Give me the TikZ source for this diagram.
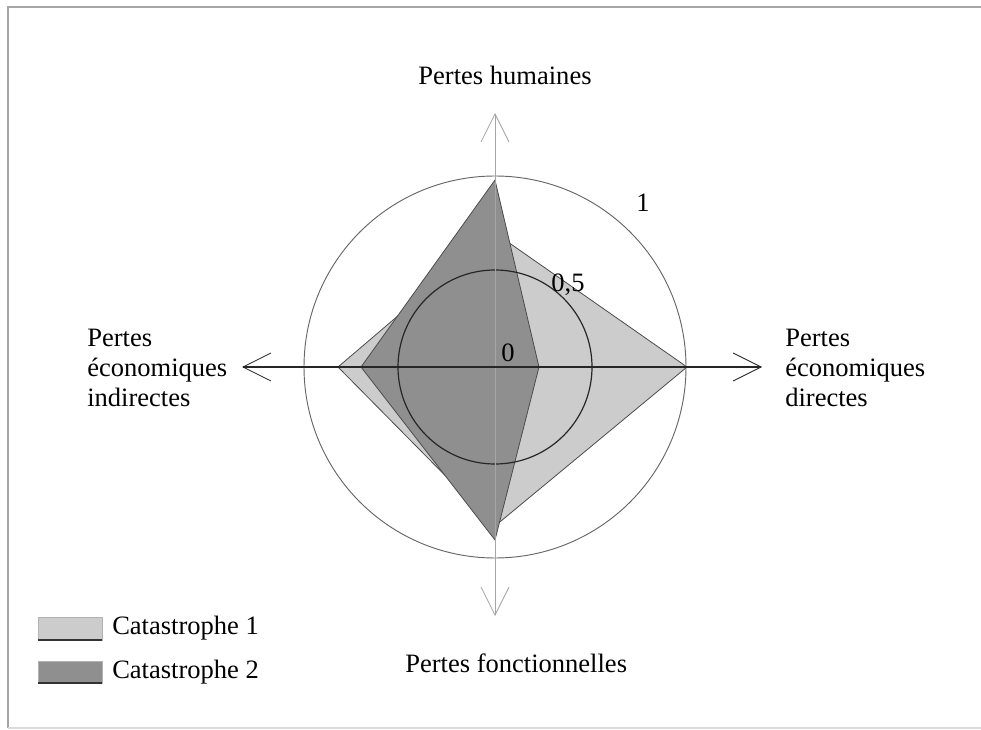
\documentclass[tikz,border=0pt]{standalone}
\usepackage{fontspec}
\setmainfont{Liberation Serif}
\usetikzlibrary{arrows.meta}
\definecolor{lightfill}{gray}{0.80}
\definecolor{darkfill}{gray}{0.56}
\definecolor{edge}{gray}{0.30}
\begin{document}
\begin{tikzpicture}[x=0.75pt,y=-0.75pt,
  lbl/.style={font=\fontsize{19.9}{22.5}\selectfont, inner sep=0pt},
  tip/.style={-{Straight Barb[length=21pt,width=21pt,line width=0.6pt]}},
  poly/.style={draw=edge, line width=0.6pt, line join=miter},
  swatch/.style={line width=0.5pt}]
\useasboundingbox (0,0) rectangle (981,730);
% frame
\draw[gray!70, line width=1pt] (8,728) -- (8,7) -- (990,7);
\draw[gray!30, line width=0.8pt] (8,728) -- (990,728);

\coordinate (C) at (495,367);
% polygons
\coordinate (a1) at (495,233); \coordinate (b1) at (687,367);
\coordinate (c1) at (495,526); \coordinate (d1) at (338,367);
\coordinate (a2) at (495,180); \coordinate (b2) at (539,367);
\coordinate (c2) at (495,540); \coordinate (d2) at (361,367);
\filldraw[poly, fill=lightfill] (a1) -- (b1) -- (c1) -- (d1) -- cycle;
\filldraw[poly, fill=darkfill] (a2) -- (b2) -- (c2) -- (d2) -- cycle;

% circles
\draw[gray!80!black, line width=0.7pt] (C) circle[radius=191];
\draw[black!85, line width=0.9pt] (C) circle[radius=97];

% axes
\coordinate (T) at (495,113); \coordinate (B) at (495,616);
\coordinate (L) at (242,367); \coordinate (R) at (762,367);
\draw[tip, gray!70, line width=0.6pt] (C) -- (T);
\draw[tip, gray!70, line width=0.6pt] (C) -- (B);
\draw[tip, black!85, line width=1.1pt] (C) -- (L);
\draw[tip, black!85, line width=1.1pt] (C) -- (R);

% scale labels
\node[lbl] (one) at (643,203) {1};
\node[lbl] (half) at (568,285) {0,5};
\node[lbl] (zero) at (508,353) {0};

% axis labels
\node[lbl] (top) at (505,75) {Pertes humaines};
\node[lbl, anchor=west] (bot) at (405,663) {Pertes fonctionnelles};
\node[lbl, anchor=west, align=left] (left) at (87,368) {Pertes\\économiques\\indirectes};
\node[lbl, anchor=west, align=left] (right) at (785,368) {Pertes\\économiques\\directes};

% legend
\filldraw[swatch, fill=lightfill, draw=gray!60] (38,617) rectangle (102,640);
\draw[black!80, line width=1pt] (38,640) -- (102,640);
\filldraw[swatch, fill=darkfill, draw=gray!60] (38,661) rectangle (102,683);
\draw[black!80, line width=1pt] (38,683) -- (102,683);
\node[lbl, anchor=west] (leg1) at (112,628) {Catastrophe 1};
\node[lbl, anchor=west] (leg2) at (112,672) {Catastrophe 2};
\end{tikzpicture}
\end{document}
